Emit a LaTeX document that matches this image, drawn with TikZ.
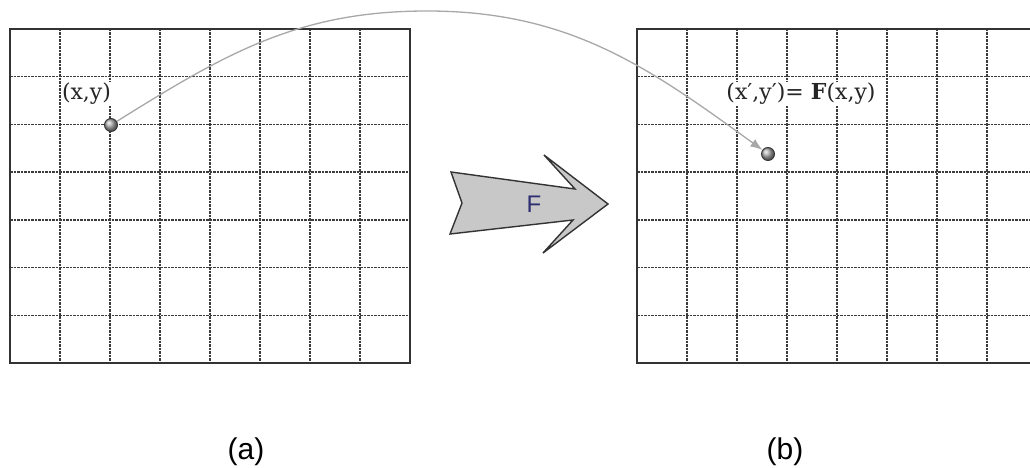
\documentclass[tikz,border=0pt]{standalone}
\usepackage{fontspec}
\setmainfont{DejaVu Serif}
\newfontfamily\arialf{Liberation Sans}
\usetikzlibrary{arrows.meta}
\definecolor{gridc}{HTML}{3C3C3C}
\definecolor{framec}{HTML}{333333}
\definecolor{navyF}{HTML}{2E2E70}
\definecolor{arrfill}{HTML}{C8C8C8}
\definecolor{connc}{HTML}{A8A8A8}
\tikzset{
  gridline/.style={draw=gridc, line width=1.5pt, dash pattern=on 2.5pt off 1pt},
  frame/.style={draw=framec, line width=2.6pt},
  dot/.style={circle, minimum size=13pt, inner sep=0pt, draw=framec, line width=0.9pt, shading=ball, ball color=gray!65},
  lbl/.style={fill=white, inner sep=1pt, text=black!85, font=\fontsize{22}{22}\selectfont},
  captxt/.style={inner sep=0pt, font=\arialf\fontsize{30}{30}\selectfont},
  farrow/.style={draw=framec, line width=1.4pt, fill=arrfill, line join=miter},
  conn/.style={draw=connc, line width=1.3pt, -{Latex[length=12pt,width=9pt]}}
}
\begin{document}
\begin{tikzpicture}[x=1pt,y=1pt]
\useasboundingbox (0,0) rectangle (1030,-468);
\fill[white] (0,0) rectangle (1030,-468);
% left grid
\foreach \i in {1,...,7} \draw[gridline] ({10+50*\i},-29) -- ({10+50*\i},-363);
\foreach \j in {1,...,6} \draw[gridline] (10,{-29-47.714*\j}) -- (410,{-29-47.714*\j});
\draw[frame] (10,-29) rectangle (410,-363);
% right grid
\foreach \i in {1,...,7} \draw[gridline] ({637+50*\i},-29) -- ({637+50*\i},-363);
\foreach \j in {1,...,6} \draw[gridline] (637,{-29-47.714*\j}) -- (1031,{-29-47.714*\j});
\draw[frame] (1032,-29) -- (637,-29) -- (637,-363) -- (1032,-363);
% labels
\node[lbl, anchor=base] (lA) at (86.5,-100) {(x,y)};
\node[lbl, anchor=base] (lB) at (801,-100) {(x′,y′)= \textbf{F}(x,y)};
% points
\node[dot] (pA) at (111,-125) {};
\node[dot] (pB) at (768,-154) {};
\coordinate (peak) at (427,-11);
\draw[conn] (pA) to[out=32,in=180] (peak) to[out=0,in=144] (pB);
% big arrow F
\draw[farrow] (451,-172) -- (575,-189) -- (544,-155) -- (608,-204) -- (543,-253) -- (573,-220) -- (450,-234) -- (462,-203) -- cycle;
\node[inner sep=0pt, anchor=base, text=navyF, font=\arialf\fontsize{24}{24}\selectfont] (Flbl) at (534,-212.6) {F};
% captions
\node[captxt, anchor=base] (ca) at (246,-459) {(a)};
\node[captxt, anchor=base] (cb) at (785,-459) {(b)};
\end{tikzpicture}
\end{document}
